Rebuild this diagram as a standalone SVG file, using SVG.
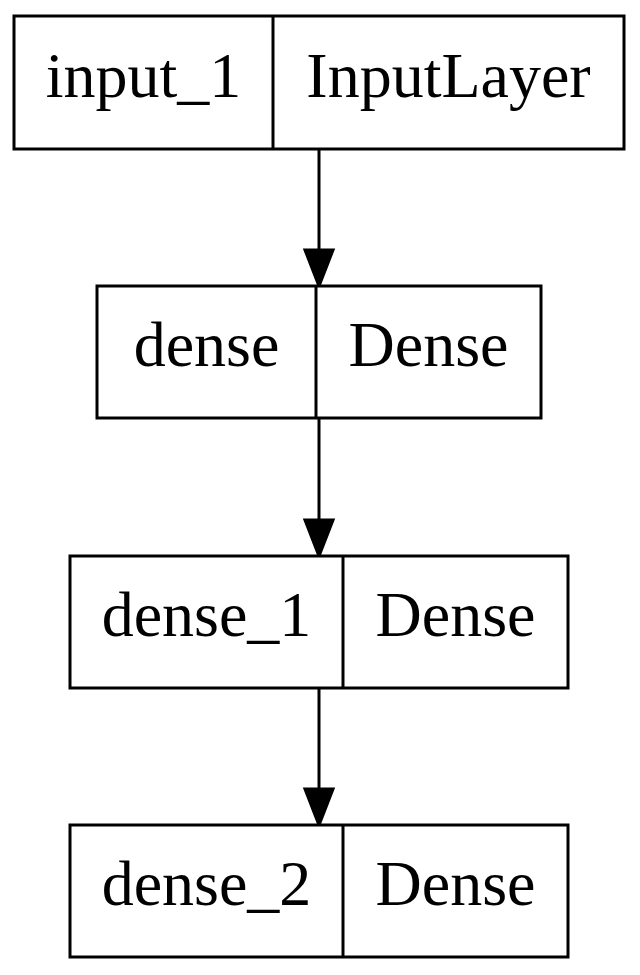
<svg xmlns="http://www.w3.org/2000/svg" width="640" height="975" viewBox="0 0 640 975">
<style>
.box{fill:#fff;stroke:#000;stroke-width:3}
.div{stroke:#000;stroke-width:3}
.t{font-family:"Liberation Serif","Times New Roman",serif;font-size:64px;text-anchor:middle;fill:#000}
.edge{stroke:#000;stroke-width:3;fill:none}
.head{fill:#000;stroke:#000;stroke-width:3}
</style>
<rect width="640" height="975" fill="#fff"/>
<g id="connectors">
<line class="edge" x1="319" y1="149" x2="319" y2="250"/>
<polygon class="head" points="305,250 333,250 319,286"/>
<line class="edge" x1="319" y1="418" x2="319" y2="520"/>
<polygon class="head" points="305,520 333,520 319,556"/>
<line class="edge" x1="319" y1="688" x2="319" y2="789"/>
<polygon class="head" points="305,789 333,789 319,825"/>
</g>
<g id="input_1">
<rect class="box" x="14" y="16" width="610" height="133"/>
<line class="div" x1="273" y1="16" x2="273" y2="149"/>
<text class="t" x="143.5" y="97">input_1</text>
<text class="t" x="448.5" y="97">InputLayer</text>
</g>
<g id="dense">
<rect class="box" x="97" y="286" width="444" height="132"/>
<line class="div" x1="316" y1="286" x2="316" y2="418"/>
<text class="t" x="206.5" y="366">dense</text>
<text class="t" x="428.5" y="366">Dense</text>
</g>
<g id="dense_1">
<rect class="box" x="70" y="556" width="498" height="132"/>
<line class="div" x1="343" y1="556" x2="343" y2="688"/>
<text class="t" x="206.5" y="636">dense_1</text>
<text class="t" x="455.5" y="636">Dense</text>
</g>
<g id="dense_2">
<rect class="box" x="70" y="825" width="498" height="132"/>
<line class="div" x1="343" y1="825" x2="343" y2="957"/>
<text class="t" x="206.5" y="905">dense_2</text>
<text class="t" x="455.5" y="905">Dense</text>
</g>
</svg>
